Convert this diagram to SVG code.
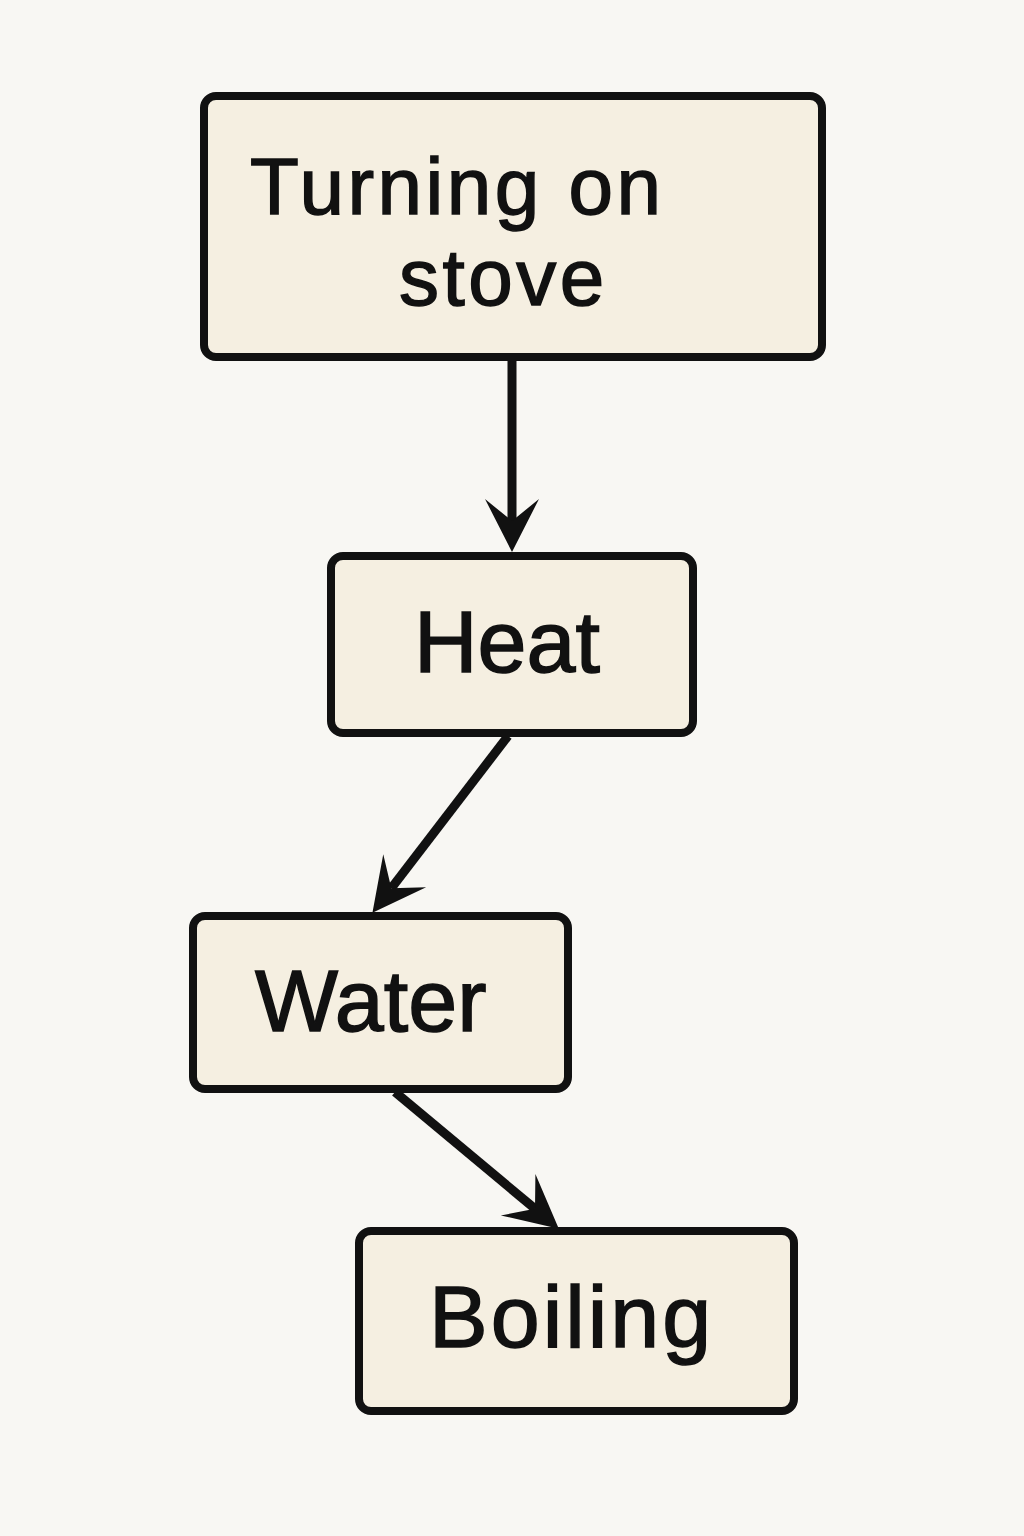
<svg xmlns="http://www.w3.org/2000/svg" width="1024" height="1536" viewBox="0 0 1024 1536">
<style>
.box{fill:#f5efe1;stroke:#111;stroke-width:8}
.lbl{font-family:"Liberation Sans",Arial,sans-serif;font-size:88px;fill:#111;stroke:#111;stroke-width:1.5}
.top{font-size:80px;letter-spacing:3.5px}
.edge{stroke:#111;stroke-width:9;fill:none}
</style>
<defs>
<marker id="ah" markerUnits="userSpaceOnUse" viewBox="-24 -30 58 60" refX="0" refY="0" markerWidth="58" markerHeight="60" orient="auto">
<path d="M31,0 L-22,-27 L0,0 L-22,27 Z" fill="#111"/>
</marker>
</defs>
<rect width="1024" height="1536" fill="#f8f7f3"/>
<g id="connectors">
<line class="edge" x1="512" y1="358" x2="512" y2="521" marker-end="url(#ah)"/>
<line class="edge" x1="508" y1="736" x2="391.3" y2="888.2" marker-end="url(#ah)"/>
<line class="edge" x1="395" y1="1092" x2="535" y2="1208.8" marker-end="url(#ah)"/>
</g>
<g id="node-turning">
<rect class="box" x="204" y="96" width="618" height="261" rx="12"/>
<text class="lbl top" x="250" y="214">Turning on</text>
<text class="lbl top" x="399" y="305">stove</text>
</g>
<g id="node-heat">
<rect class="box" x="331" y="556" width="362" height="177" rx="12"/>
<text class="lbl" x="414" y="672">Heat</text>
</g>
<g id="node-water">
<rect class="box" x="193" y="916" width="375" height="173" rx="12"/>
<text class="lbl" x="255" y="1031">Water</text>
</g>
<g id="node-boiling">
<rect class="box" x="359" y="1231" width="435" height="180" rx="12"/>
<text class="lbl" x="429" y="1347" letter-spacing="3">Boiling</text>
</g>
</svg>
